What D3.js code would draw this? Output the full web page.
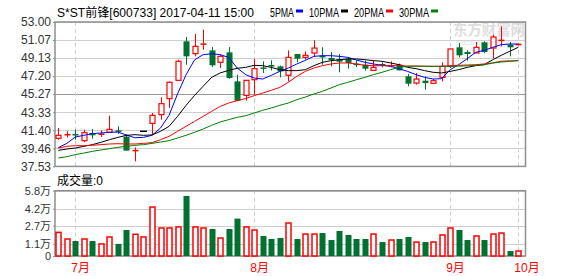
<!DOCTYPE html>
<html>
<head>
<meta charset="utf-8">
<script src="https://cdn.jsdelivr.net/npm/d3@7"></script>
<style>
  body { margin: 0; background: #fff; }
  svg { display: block; }
</style>
</head>
<body>
<div id="chart"></div>
<script>
// ---- data ----
const title = 'S*ST前锋[600733] 2017-04-11 15:00';
const maNames = ['5PMA', '10PMA', '20PMA', '30PMA'];
const maColors = ['#0000ff', '#000000', '#ff0000', '#008000'];

const priceTicks = [37.53, 39.46, 41.40, 43.33, 45.27, 47.20, 49.13, 51.07, 53.00];
const volTicks = [0, 1.1, 2.7, 4.2, 5.8];
const volTickLabels = ['0', '1.1万', '2.7万', '4.2万', '5.8万'];
const volumeTitle = '成交量:0';

const monthIdx = [2, 23, 46, 54];
const monthLabels = ['7月', '8月', '9月', '10月'];

const open = [40.54, 40.90, 41.00, 40.29, 41.11, 40.95, 41.18, 41.39, 40.72, 39.20,
  41.29, 42.14, 43.07, 44.79, 46.75, 50.93, 49.61, 50.60, 49.96, 48.68,
  49.75, 46.64, 45.14, 46.82, 48.14, 48.39, 48.25, 47.29, 49.57, 49.21,
  49.68, 49.39, 49.14, 49.00, 49.07, 48.54, 48.43, 47.82, 48.50, 48.25,
  48.43, 47.18, 46.46, 46.71, 46.43, 47.07, 48.25, 50.29, 49.79, 49.68,
  50.82, 50.21, 51.00, 50.57, 50.55];
const close = [40.86, 40.95, 40.88, 41.14, 40.86, 41.00, 41.50, 41.30, 39.22, 39.25,
  41.29, 43.00, 44.25, 46.54, 48.79, 49.32, 50.39, 50.66, 48.36, 49.32,
  47.00, 44.57, 46.75, 48.00, 48.00, 48.25, 47.71, 49.21, 49.07, 49.43,
  50.21, 49.21, 48.93, 48.75, 48.61, 48.39, 48.00, 48.14, 48.39, 48.36,
  47.82, 46.39, 46.89, 46.46, 46.71, 48.25, 50.11, 49.43, 49.57, 50.29,
  49.79, 51.39, 51.07, 50.29, 50.62];
const high = [41.64, 41.29, 41.47, 41.47, 41.54, 41.39, 42.97, 41.82, 40.97, 39.57,
  41.29, 43.25, 44.93, 46.64, 48.96, 51.39, 51.71, 52.18, 50.32, 49.50,
  50.32, 47.36, 46.75, 49.04, 48.79, 48.89, 48.32, 49.96, 49.57, 49.86,
  51.04, 50.29, 49.79, 49.57, 49.21, 48.89, 48.86, 48.86, 48.68, 48.79,
  48.54, 47.43, 47.54, 47.18, 46.89, 48.68, 50.15, 50.75, 49.96, 50.86,
  50.93, 51.64, 52.54, 50.86, 50.70];
const low = [40.39, 40.64, 40.39, 40.11, 40.50, 40.68, 41.11, 41.00, 39.22, 38.07,
  41.29, 40.93, 42.54, 43.79, 46.75, 48.43, 49.32, 50.04, 48.18, 48.07,
  46.93, 44.50, 44.57, 45.21, 47.54, 47.82, 47.07, 46.64, 48.68, 48.96,
  49.32, 48.43, 48.25, 47.61, 48.00, 48.18, 47.79, 47.82, 48.14, 48.14,
  47.82, 46.11, 46.29, 45.75, 46.36, 46.64, 48.07, 49.21, 48.86, 49.68,
  49.68, 49.14, 50.39, 49.32, 50.50];
// volume in 万
const volume = [2.10, 1.51, 1.33, 1.51, 1.33, 1.07, 1.69, 1.07, 2.31, 1.93,
  1.69, 4.35, 2.49, 2.49, 2.58, 5.33, 2.58, 2.49, 2.40, 1.60,
  2.40, 3.32, 2.58, 2.31, 1.78, 1.51, 1.60, 2.93, 1.51, 1.95,
  1.95, 2.04, 1.42, 2.22, 1.87, 1.51, 1.51, 1.95, 1.24, 1.42,
  1.51, 1.69, 1.24, 1.24, 1.24, 1.87, 2.49, 2.31, 1.42, 1.78,
  1.42, 1.95, 2.04, 0.44, 0.44];

const ma5 = [39.54, 40.00, 40.68, 40.86, 41.04, 41.11, 41.18, 41.21, 40.89, 40.60,
  40.64, 40.86, 41.64, 43.00, 45.30, 47.35, 48.95, 49.50, 49.60, 49.50,
  49.21, 48.07, 47.36, 47.00, 46.89, 47.29, 47.71, 48.07, 48.50, 48.89,
  49.32, 49.39, 49.39, 49.32, 49.21, 48.93, 48.68, 48.50, 48.36, 48.25,
  48.00, 47.71, 47.36, 47.07, 46.89, 46.93, 47.89, 48.43, 49.07, 49.75,
  49.96, 50.29, 50.57, 50.64, 50.64];
const ma10 = [39.25, 39.39, 39.50, 39.68, 39.86, 40.11, 40.39, 40.64, 40.86, 40.93,
  40.86, 40.90, 41.29, 41.82, 42.89, 44.07, 45.14, 46.11, 47.07, 47.54,
  47.82, 48.04, 48.14, 48.36, 48.32, 48.14, 47.89, 47.79, 47.79, 47.89,
  48.32, 48.68, 48.86, 48.96, 49.04, 49.04, 48.96, 48.86, 48.79, 48.61,
  48.43, 48.14, 48.00, 47.79, 47.61, 47.54, 47.71, 47.89, 48.14, 48.32,
  48.43, 48.96, 49.43, 49.86, 50.29];
const ma20 = [39.50, 39.68, 39.75, 39.75, 39.79, 39.86, 39.93, 39.96, 39.93, 39.93,
  40.00, 40.08, 40.39, 40.75, 41.29, 41.82, 42.36, 42.89, 43.43, 43.96,
  44.32, 44.57, 44.80, 45.11, 45.39, 45.68, 46.00, 46.54, 47.18, 47.71,
  48.07, 48.32, 48.50, 48.61, 48.61, 48.50, 48.36, 48.32, 48.32, 48.32,
  48.32, 48.28, 48.27, 48.26, 48.25, 48.25, 48.32, 48.36, 48.39, 48.43,
  48.50, 48.62, 48.80, 48.84, 48.86];
const ma30 = [38.43, 38.57, 38.79, 38.96, 39.14, 39.29, 39.43, 39.57, 39.68, 39.79,
  39.86, 40.00, 40.14, 40.29, 40.57, 40.86, 41.18, 41.54, 41.93, 42.29,
  42.54, 42.79, 42.96, 43.25, 43.54, 43.79, 44.07, 44.32, 44.68, 44.96,
  45.29, 45.57, 45.93, 46.29, 46.54, 46.82, 47.07, 47.36, 47.61, 47.89,
  48.14, 48.25, 48.28, 48.26, 48.25, 48.25, 48.25, 48.27, 48.30, 48.35,
  48.42, 48.60, 48.71, 48.78, 48.86];
const maSeries = [ma5, ma10, ma20, ma30];

// ---- layout ----
const width = 578, height = 276;
const left = 55, right = 525.5;
const pTop = 22, pBottom = 166.4;   // price panel
const vTop = 190.7, vBottom = 256;  // volume panel
const upColor = '#ff0000', downColor = '#007130';
const font = '"Liberation Sans", "Noto Sans CJK SC", sans-serif';

const svg = d3.select('#chart').append('svg')
  .attr('width', width)
  .attr('height', height)
  .style('font-family', font);

const x = d3.scalePoint()
  .domain(d3.range(open.length))
  .range([58.3, 518.3]);

const yP = d3.scaleLinear().domain([37.53, 53]).range([pBottom, pTop]);
const yV = d3.scaleLinear().domain([0, 5.8]).range([vBottom, vTop]);

// watermark (faint, behind everything)
const wm = svg.append('g').attr('fill', '#dedede');
wm.append('text')
  .attr('x', 453).attr('y', 35)
  .attr('font-size', 15).attr('font-weight', 'bold')
  .attr('textLength', 72).attr('lengthAdjust', 'spacingAndGlyphs')
  .text('东方财富网');
wm.append('text')
  .attr('x', 456).attr('y', 45)
  .attr('font-size', 7).attr('fill', '#e6e6e6')
  .attr('textLength', 62).attr('lengthAdjust', 'spacingAndGlyphs')
  .text('eastmoney.com');

// header + legend
svg.append('text')
  .attr('x', 57).attr('y', 16.5)
  .attr('font-size', 12).attr('fill', '#000')
  .attr('textLength', 197).attr('lengthAdjust', 'spacingAndGlyphs')
  .text(title);

let lx = 270;
maNames.forEach((name, k) => {
  const w = name.length * 6;
  svg.append('text')
    .attr('x', lx).attr('y', 16.5)
    .attr('font-size', 12).attr('fill', '#000')
    .attr('textLength', w).attr('lengthAdjust', 'spacingAndGlyphs')
    .text(name);
  svg.append('rect')
    .attr('x', lx + w + 2).attr('y', 9.5)
    .attr('width', 7).attr('height', 3)
    .attr('fill', maColors[k]);
  lx += w + 15;
});

// grids
function panelGrid(yScale, ticks, top, bottom, dark) {
  const g = svg.append('g');
  g.selectAll('line.h').data(ticks).join('line')
    .attr('class', 'h')
    .attr('x1', left).attr('x2', right)
    .attr('y1', d => Math.round(yScale(d)) + 0.5)
    .attr('y2', d => Math.round(yScale(d)) + 0.5)
    .attr('stroke', d => d === dark ? '#999' : '#cfcfcf')
    .attr('stroke-width', 1);
  g.selectAll('line.v').data(monthIdx).join('line')
    .attr('class', 'v')
    .attr('x1', d => Math.round(x(d)) + 0.5)
    .attr('x2', d => Math.round(x(d)) + 0.5)
    .attr('y1', top).attr('y2', bottom)
    .attr('stroke', '#cfcfcf')
    .attr('stroke-dasharray', '4,3');
  g.append('rect')
    .attr('x', left).attr('y', top)
    .attr('width', right - left).attr('height', bottom - top)
    .attr('fill', 'none')
    .attr('stroke', '#8f8f8f')
    .attr('stroke-width', 1.5);
}
panelGrid(yP, priceTicks, pTop, pBottom, 45.27);
panelGrid(yV, volTicks, vTop, vBottom, null);

// y axes
const axisP = d3.axisLeft(yP).tickValues(priceTicks).tickSize(2).tickPadding(2)
  .tickFormat(d3.format('.2f'));
svg.append('g')
  .attr('transform', `translate(${left},0)`)
  .call(axisP)
  .call(g => g.select('.domain').remove())
  .call(g => g.selectAll('.tick line').attr('stroke', '#8f8f8f'))
  .call(g => g.selectAll('.tick text')
    .attr('fill', '#333').attr('font-size', 12).attr('font-family', font));

const axisV = d3.axisLeft(yV).tickValues(volTicks).tickSize(2).tickPadding(2)
  .tickFormat((d, i) => volTickLabels[i]);
svg.append('g')
  .attr('transform', `translate(${left},0)`)
  .call(axisV)
  .call(g => g.select('.domain').remove())
  .call(g => g.selectAll('.tick line').attr('stroke', '#8f8f8f'))
  .call(g => g.selectAll('.tick text')
    .attr('fill', '#333').attr('font-size', 11).attr('font-family', font));

// volume title
svg.append('text')
  .attr('x', 57).attr('y', 185)
  .attr('font-size', 12).attr('fill', '#000')
  .text(volumeTitle);

// month labels
svg.selectAll('text.month').data(monthIdx).join('text')
  .attr('class', 'month')
  .attr('x', d => x(d) - 4)
  .attr('y', 272)
  .attr('font-size', 12)
  .attr('fill', '#ff0000')
  .text((d, i) => monthLabels[i]);

// candles
const idx = d3.range(open.length);
const bodyW = 6;
const cx = i => Math.round(x(i)) + 0.5;
const candleColor = i => {
  if (open[i] === close[i] && high[i] === low[i]) return '#000';
  return close[i] >= open[i] ? upColor : downColor;
};

const candles = svg.append('g');
idx.forEach(i => {
  const c = candleColor(i);
  const up = close[i] >= open[i];
  const yTop = yP(Math.max(open[i], close[i]));
  const yBot = yP(Math.min(open[i], close[i]));
  const g = candles.append('g');
  if (c === '#000') {
    g.append('line')
      .attr('x1', cx(i) - 3.5).attr('x2', cx(i) + 3.5)
      .attr('y1', yTop).attr('y2', yTop)
      .attr('stroke', c).attr('stroke-width', 1.5);
    return;
  }
  if (up) {
    g.append('line')
      .attr('x1', cx(i)).attr('x2', cx(i))
      .attr('y1', yP(high[i])).attr('y2', yTop)
      .attr('stroke', c);
    g.append('line')
      .attr('x1', cx(i)).attr('x2', cx(i))
      .attr('y1', yBot).attr('y2', yP(low[i]))
      .attr('stroke', c);
    const h = yBot - yTop;
    if (h < 1.5) {
      g.append('line')
        .attr('x1', cx(i) - bodyW / 2).attr('x2', cx(i) + bodyW / 2)
        .attr('y1', (yTop + yBot) / 2).attr('y2', (yTop + yBot) / 2)
        .attr('stroke', c).attr('stroke-width', 1.5);
    } else {
      g.append('rect')
        .attr('x', cx(i) - bodyW / 2 + 0.5).attr('y', yTop)
        .attr('width', bodyW - 1).attr('height', h)
        .attr('fill', '#fff').attr('stroke', c).attr('stroke-width', 1.2);
    }
  } else {
    g.append('line')
      .attr('x1', cx(i)).attr('x2', cx(i))
      .attr('y1', yP(high[i])).attr('y2', yP(low[i]))
      .attr('stroke', c);
    g.append('rect')
      .attr('x', cx(i) - bodyW / 2).attr('y', yTop)
      .attr('width', bodyW).attr('height', Math.max(1.5, yBot - yTop))
      .attr('fill', c);
  }
});

// moving averages
const line = d3.line().x((d, i) => x(i)).y(d => yP(d));
maSeries.forEach((s, k) => {
  svg.append('path')
    .datum(s)
    .attr('d', line)
    .attr('fill', 'none')
    .attr('stroke', maColors[k])
    .attr('stroke-width', 1);
});

// volume bars
svg.append('g').selectAll('rect').data(idx).join('rect')
  .attr('x', i => close[i] >= open[i] ? cx(i) - bodyW / 2 + 0.5 : cx(i) - bodyW / 2)
  .attr('y', i => yV(volume[i]))
  .attr('width', i => close[i] >= open[i] ? bodyW - 1 : bodyW)
  .attr('height', i => yV(0) - yV(volume[i]))
  .attr('fill', i => close[i] >= open[i] ? '#fff' : downColor)
  .attr('stroke', i => close[i] >= open[i] ? upColor : 'none')
  .attr('stroke-width', 1.5);
</script>
</body>
</html>
